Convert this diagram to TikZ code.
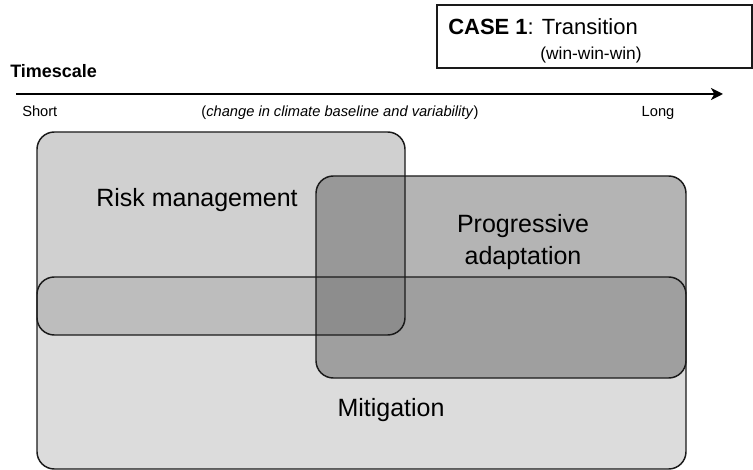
\documentclass[tikz,border=0pt]{standalone}
\usepackage{fontspec}
\setmainfont{Liberation Sans}
\usetikzlibrary{arrows.meta}
\definecolor{mitfill}{HTML}{DCDCDC}
\definecolor{riskfill}{gray}{0.62}
\definecolor{progfill}{gray}{0.314}
\definecolor{edge}{HTML}{1A1A1A}
\tikzset{
  region/.style={rectangle, rounded corners=13pt, inner sep=0pt},
  regionline/.style={region, draw=edge, line width=1.1pt},
  biglabel/.style={font=\fontsize{18.75}{24}\selectfont, align=center, inner sep=0pt},
  smalllabel/.style={font=\fontsize{11}{13}\selectfont, inner sep=0pt},
}
\begin{document}
\begin{tikzpicture}[x=0.75pt, y=-0.75pt]
\useasboundingbox (0,0) rectangle (753,470);
% fills
\node[region, fill=mitfill, minimum width=486.75pt, minimum height=144pt] (mitfill) at (361.5,373) {};
\node[region, fill=riskfill, fill opacity=0.486, minimum width=276pt, minimum height=152.25pt] (riskfill) at (221,233.5) {};
\node[region, fill=progfill, fill opacity=0.43, minimum width=277.5pt, minimum height=151.5pt] (progfill) at (501,277) {};
% outlines
\node[regionline, minimum width=486.75pt, minimum height=144pt] (mit) at (361.5,373) {};
\node[regionline, minimum width=276pt, minimum height=152.25pt] (risk) at (221,233.5) {};
\node[regionline, minimum width=277.5pt, minimum height=151.5pt] (prog) at (501,277) {};
% labels
\node[biglabel] (risklabel) at (197,200) {Risk management};
\node[biglabel] (proglabel) at (523,242.5) {Progressive\\adaptation};
\node[biglabel] (mitlabel) at (391,410.5) {Mitigation};
% case box
\node[rectangle, draw=edge, line width=0.9pt, minimum width=236.25pt, minimum height=47.25pt, inner sep=0pt] (casebox) at (594.5,36.5) {};
\node[anchor=base west, inner sep=0pt, font=\fontsize{16.5}{18}\selectfont] (casetitle) at (448,35) {\textbf{CASE 1}: Transition};
\node[anchor=base, inner sep=0pt, font=\fontsize{13}{15}\selectfont] (casesub) at (591,59.5) {(win-win-win)};
% timescale
\node[anchor=base west, inner sep=0pt, font=\bfseries\fontsize{13.5}{16}\selectfont] (timescale) at (10,78) {Timescale};
\coordinate (arrowstart) at (16,94);
\coordinate (arrowend) at (723,94);
\draw[line width=2pt, -{Stealth[length=9pt, width=9pt, inset=2.5pt]}] (arrowstart) -- (arrowend);
\node[smalllabel, anchor=base west] (short) at (22,117) {Short};
\node[smalllabel, anchor=base] (change) at (340,117) {(\textit{change in climate baseline and variability})};
\node[smalllabel, anchor=base] (long) at (658,117) {Long};
\end{tikzpicture}
\end{document}
